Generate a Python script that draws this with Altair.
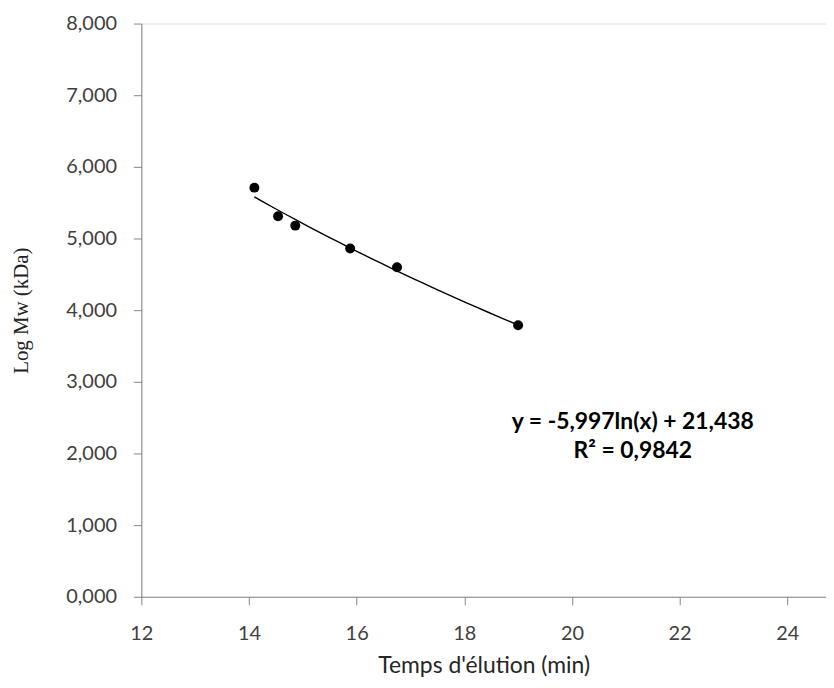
import altair as alt
import pandas as pd

# Data
elution_time = [14.10, 14.54, 14.86, 15.88, 16.75, 19.00]
log_mw = [5.71, 5.31, 5.18, 4.86, 4.60, 3.79]

x_ticks = [12, 14, 16, 18, 20, 22, 24]
y_ticks = [0, 1, 2, 3, 4, 5, 6, 7, 8]

eq_lines = ["y = -5,997ln(x) + 21,438", "R² = 0,9842"]
eq_x = [21.13, 21.13]
eq_y = [2.44, 2.04]

df = pd.DataFrame({"x": elution_time, "y": log_mw})
ann = pd.DataFrame({"text": eq_lines, "x": eq_x, "y": eq_y})

axis_color = "#868686"
label_color = "#404040"

xscale = alt.Scale(domain=[12, 24.72], nice=False, zero=False)
yscale = alt.Scale(domain=[0, 8], nice=False)

xaxis = alt.Axis(
    values=x_ticks, format="d", grid=False, domain=True, domainColor=axis_color,
    tickColor=axis_color, tickSize=8, labelFont="Lato", labelFontSize=20,
    labelColor=label_color, labelPadding=19, labelFlush=False,
    title="Temps d'élution (min)", titleFont="Lato", titleFontSize=23,
    titleFontWeight="normal", titleColor="#262626", titleY=69, titleBaseline="middle",
)
yaxis = alt.Axis(
    values=y_ticks, grid=False, domain=True, domainColor=axis_color, tickColor=axis_color,
    tickSize=8, labelFont="Lato", labelFontSize=20, labelColor=label_color, labelPadding=17,
    labelExpr="replace(format(datum.value, ',.3f'), '.', ',')",
    title="Log Mw (kDa)", titleFont="Liberation Serif", titleFontSize=21,
    titleFontWeight="normal", titleColor="#222222", titleX=-120, titleY=288,
    titleAngle=-90, titleAlign="center", titleBaseline="middle",
)

base = alt.Chart(df)

points = base.mark_circle(size=100, color="black", opacity=1).encode(
    x=alt.X("x:Q", scale=xscale, axis=xaxis),
    y=alt.Y("y:Q", scale=yscale, axis=yaxis),
)

trend = base.transform_regression("x", "y", method="log").mark_line(
    color="black", strokeWidth=1.4
).encode(
    x=alt.X("x:Q", scale=xscale),
    y=alt.Y("y:Q", scale=yscale),
)

text = alt.Chart(ann).mark_text(
    font="Lato", fontSize=23, fontWeight="bold", color="black", align="center", baseline="middle"
).encode(
    x=alt.X("x:Q", scale=xscale),
    y=alt.Y("y:Q", scale=yscale),
    text="text:N",
)

chart = (
    alt.layer(trend, points, text)
    .properties(
        width=688,
        height=576,
        autosize=alt.AutoSizeParams(type="none"),
        padding={"left": 134, "top": 14, "right": 0, "bottom": 82},
    )
    .configure_view(stroke=None)
    .configure(background="white")
)

chart.save("out.html", embed_options={"renderer": "svg", "actions": False})
